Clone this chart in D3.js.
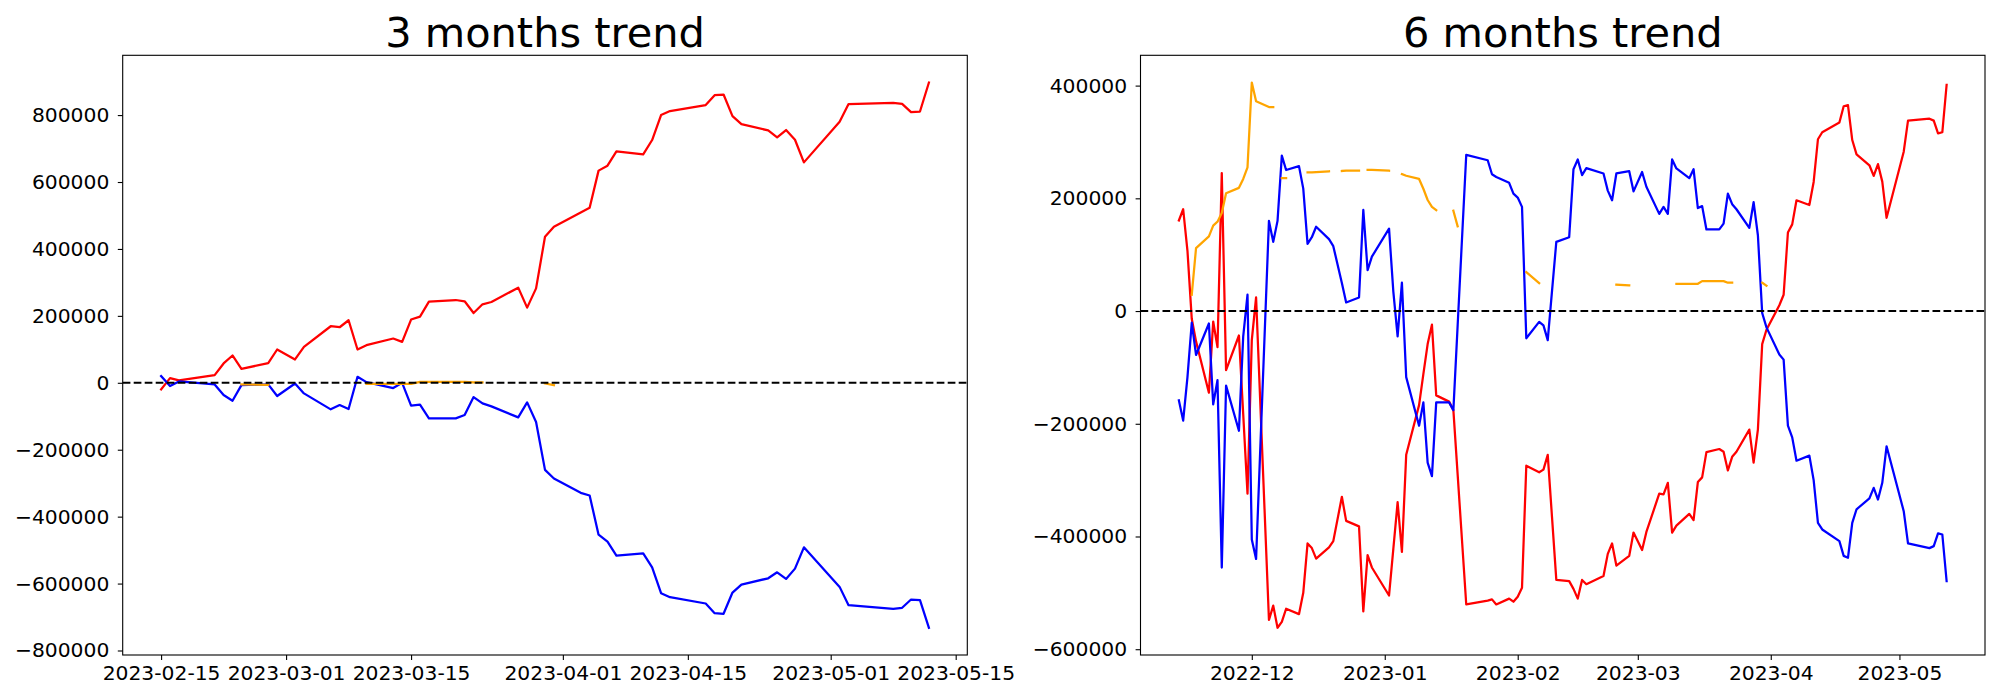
<!DOCTYPE html>
<html><head><meta charset="utf-8">
<script src="https://cdn.jsdelivr.net/npm/d3@7"></script>
<style>body{margin:0;background:#fff} text{font-family:"DejaVu Sans",sans-serif}</style>
</head><body>
<svg id="chart" width="2000" height="700"></svg>
<script>
// ---------- 3 months data ----------
const dates3 = ["2023-02-15","2023-02-16","2023-02-17","2023-02-21","2023-02-22","2023-02-23","2023-02-24","2023-02-27","2023-02-28",
"2023-03-02","2023-03-03","2023-03-06","2023-03-07","2023-03-08","2023-03-09","2023-03-10","2023-03-13","2023-03-14","2023-03-15",
"2023-03-16","2023-03-17","2023-03-20","2023-03-21","2023-03-22","2023-03-23","2023-03-24","2023-03-27","2023-03-28","2023-03-29",
"2023-03-30","2023-03-31","2023-04-03","2023-04-04","2023-04-05","2023-04-06","2023-04-07","2023-04-10","2023-04-11","2023-04-12",
"2023-04-13","2023-04-17","2023-04-18","2023-04-19","2023-04-20","2023-04-21","2023-04-24","2023-04-25","2023-04-26","2023-04-27",
"2023-04-28","2023-05-02","2023-05-03","2023-05-08","2023-05-09","2023-05-10","2023-05-11","2023-05-12"];
const red3 = [-19700,14000,7100,22900,57800,81600,41700,58700,99500,69700,107300,169000,166000,186900,99500,112400,132300,122200,189000,
197900,242600,247400,243500,208600,234600,241400,284300,224700,282200,436300,466200,508800,522800,634000,648900,691600,682600,725500,
800000,812000,829800,859600,861400,797000,773100,754100,733300,755300,726400,658700,780000,832800,836700,833700,808900,810700,897200];
const blue3 = [20000,-9800,4000,-4900,-36700,-53600,-6900,-4900,-39600,-2000,-31700,-79400,-66500,-78400,17900,2000,-15800,0,-68500,
-65500,-106200,-106200,-96300,-42700,-61500,-70400,-103300,-58500,-117100,-260200,-286100,-328800,-336800,-454000,-474800,-516500,
-509700,-551400,-628900,-640800,-659600,-688500,-690300,-626800,-603000,-584200,-566300,-586100,-555300,-491800,-609900,-664700,
-675400,-672400,-647700,-649600,-732000];
const orange3 = [null,null,null,null,null,null,-5000,-6000,null,null,null,null,null,null,null,-3500,-3500,-3500,-3500,2500,2500,2500,2500,
1000,1000,null,null,null,null,-1500,-7000,
null,null,null,null,null,null,null,null,null,null,null,null,null,null,null,null,null,null,null,null,null,null,null,null,null,null];
const xTicks3 = ["2023-02-15","2023-03-01","2023-03-15","2023-04-01","2023-04-15","2023-05-01","2023-05-15"];
const yTicks3 = [-800000,-600000,-400000,-200000,0,200000,400000,600000,800000];

// ---------- 6 months data ----------
const dates6 = ["2022-11-14","2022-11-15","2022-11-16","2022-11-17","2022-11-18","2022-11-21","2022-11-22","2022-11-23","2022-11-24",
"2022-11-25","2022-11-28","2022-11-29","2022-11-30","2022-12-01","2022-12-02","2022-12-05","2022-12-06","2022-12-07","2022-12-08",
"2022-12-09","2022-12-12","2022-12-13","2022-12-14","2022-12-15","2022-12-16","2022-12-19","2022-12-20","2022-12-22","2022-12-23",
"2022-12-26","2022-12-27","2022-12-28","2022-12-29","2023-01-02","2023-01-03","2023-01-04","2023-01-05","2023-01-06","2023-01-09",
"2023-01-10","2023-01-11","2023-01-12","2023-01-13","2023-01-16","2023-01-17","2023-01-18","2023-01-20","2023-01-25","2023-01-26",
"2023-01-27","2023-01-30","2023-01-31","2023-02-01","2023-02-02","2023-02-03","2023-02-06","2023-02-07","2023-02-08","2023-02-09",
"2023-02-10","2023-02-13","2023-02-14","2023-02-15","2023-02-16","2023-02-17","2023-02-21","2023-02-22","2023-02-23","2023-02-24",
"2023-02-27","2023-02-28","2023-03-02","2023-03-03","2023-03-06","2023-03-07","2023-03-08","2023-03-09","2023-03-10","2023-03-13",
"2023-03-14","2023-03-15","2023-03-16","2023-03-17","2023-03-20","2023-03-21","2023-03-22","2023-03-23","2023-03-24","2023-03-27",
"2023-03-28","2023-03-29","2023-03-30","2023-03-31","2023-04-03","2023-04-04","2023-04-05","2023-04-06","2023-04-07","2023-04-10",
"2023-04-11","2023-04-12","2023-04-13","2023-04-17","2023-04-18","2023-04-19","2023-04-20","2023-04-21","2023-04-24","2023-04-25",
"2023-04-26","2023-04-27","2023-04-28","2023-05-02","2023-05-03","2023-05-08","2023-05-09","2023-05-10","2023-05-11","2023-05-12"];
const red6 = [160700,180600,106900,-13800,-53800,-144800,-18600,-64100,244800,-104800,-43400,-183400,-324100,-51700,24100,-548100,
-522600,-561900,-551600,-528200,-537800,-499900,-412300,-420600,-439200,-419200,-408200,-329600,-372300,-382000,-533000,-433000,
-455000,-504700,-422000,-339200,-427500,-255100,-166900,-112000,-58600,-24100,-149600,-160700,-175800,-290700,-520600,-513700,
-511600,-520600,-510200,-515700,-506800,-490900,-274400,-286100,-281300,-255100,-366100,-477100,-479200,-493000,-510200,-477100,
-484700,-470200,-430900,-412300,-451600,-434400,-393000,-424000,-392000,-324100,-325400,-304800,-393000,-380600,-359900,-370900,
-303400,-295100,-250300,-244800,-249600,-282700,-258600,-249600,-210300,-268900,-210300,-58600,-33100,10300,29000,139300,153800,
196500,188200,229000,304800,317200,334400,363400,365400,303400,277900,258600,239900,260600,229600,165500,282700,337900,341300,
337900,315100,317200,401300];
const blue6 = [-158600,-194400,-117200,-20700,-77900,-22100,-165500,-122700,-455100,-132400,-212400,-44800,29000,-405400,-439900,
160000,122700,160000,275800,250300,257200,217200,119300,131000,149600,127600,115100,49600,15200,24100,179300,72400,96500,146200,
34500,-44800,50300,-117200,-203400,-162000,-268900,-293000,-162000,-162000,-175800,-24800,277200,267500,242700,237900,227500,
208200,201300,184800,-48300,-19300,-25500,-51700,35900,122700,131000,251700,268900,241300,253700,244100,213700,196500,244100,
248200,212400,246800,220600,172400,184800,172400,268900,253000,235800,251700,182700,186200,144800,144800,155100,208200,189600,
180600,147600,193100,134500,-3400,-29000,-77200,-86200,-203400,-224100,-265500,-256500,-299900,-375800,-387500,-408200,-434400,
-437800,-375800,-351700,-332300,-313700,-334400,-304800,-240000,-355100,-412300,-420600,-417100,-394400,-396500,-479200];
const orange6 = [null,null,null,29000,111700,132400,151700,158600,173800,208900,218600,234400,255100,405400,372300,362000,362000,
null,235800,235800,null,null,246000,246000,246500,248000,null,248500,249000,249000,null,250500,250500,249000,null,null,
243000,240000,234400,217000,197000,185000,179000,null,178000,150300,
null,null,null,null,null,null,null,null,69000,49600,
null,null,null,null,null,null,null,null,null,null,null,null,46900,45500,
null,null,null,null,null,null,null,48300,48300,48300,48300,53100,53100,53100,53100,50300,50300,null,null,null,null,50300,44800,
null,null,null,null,null,null,null,null,null,null,null,null,null,null,null,null,null,null,null,null,null,null,null,null,null,null];
const xTicks6 = ["2022-12-01","2023-01-01","2023-02-01","2023-03-01","2023-04-01","2023-05-01"];
const yTicks6 = [-600000,-400000,-200000,0,200000,400000];

const parse = d3.utcParse("%Y-%m-%d");
const svg = d3.select("#chart");

function panel(o) {
  const dts = o.dates.map(parse);
  const t0 = dts[0], t1 = dts[dts.length - 1];
  const pad = (t1 - t0) * 0.05;
  const x = d3.scaleUtc().domain([new Date(+t0 - pad), new Date(+t1 + pad)]).range([o.left, o.right]);
  const all = o.series.flatMap(s => s.values.filter(v => v != null));
  const lo = d3.min(all), hi = d3.max(all), r = hi - lo;
  const y = d3.scaleLinear().domain([lo - 0.05 * r, hi + 0.05 * r]).range([o.bottom, o.top]);
  const g = svg.append("g");

  o.series.forEach(s => {
    const pts = dts.map((d, i) => ({d, v: s.values[i]}));
    const line = d3.line().defined(p => p.v != null).x(p => x(p.d)).y(p => y(p.v));
    g.append("path").attr("d", line(pts)).attr("fill", "none").attr("stroke", s.color)
      .attr("stroke-width", 2.25).attr("stroke-linejoin", "round").attr("stroke-linecap", "square");
  });

  g.append("line").attr("x1", o.left).attr("x2", o.right).attr("y1", y(0)).attr("y2", y(0))
    .attr("stroke", "#000").attr("stroke-width", 2.1).attr("stroke-dasharray", "7.7 3.3");

  const ya = g.append("g").attr("transform", `translate(${o.left},0)`)
    .call(d3.axisLeft(y).tickValues(o.yTicks).tickFormat(d3.format("d")).tickSize(4.9).tickPadding(8.5));
  const xa = g.append("g").attr("transform", `translate(0,${o.bottom})`)
    .call(d3.axisBottom(x).tickValues(o.xTicks.map(parse)).tickFormat(d3.utcFormat(o.xFmt)).tickSize(4.9).tickPadding(5.9));
  [ya, xa].forEach(a => {
    a.select(".domain").remove();
    a.selectAll("line").attr("stroke", "#000").attr("stroke-width", 1.1);
    a.selectAll("text").attr("font-size", 20.3).attr("fill", "#000").attr("font-family", "DejaVu Sans");
  });

  g.append("rect").attr("x", o.left).attr("y", o.top).attr("width", o.right - o.left).attr("height", o.bottom - o.top)
    .attr("fill", "none").attr("stroke", "#000").attr("stroke-width", 1.1);

  g.append("text").attr("x", (o.left + o.right) / 2).attr("y", o.top - 8.3).attr("text-anchor", "middle")
    .attr("font-size", 41.5).attr("fill", "#000").text(o.title);
}

panel({left: 122.7, right: 967.3, top: 55.3, bottom: 655, dates: dates3,
  series: [{values: red3, color: "#ff0000"}, {values: blue3, color: "#0000ff"}, {values: orange3, color: "#ffa500"}],
  xTicks: xTicks3, xFmt: "%Y-%m-%d", yTicks: yTicks3, title: "3 months trend"});
panel({left: 1140.5, right: 1985, top: 55.3, bottom: 655, dates: dates6,
  series: [{values: red6, color: "#ff0000"}, {values: blue6, color: "#0000ff"}, {values: orange6, color: "#ffa500"}],
  xTicks: xTicks6, xFmt: "%Y-%m", yTicks: yTicks6, title: "6 months trend"});
</script>
</body></html>
